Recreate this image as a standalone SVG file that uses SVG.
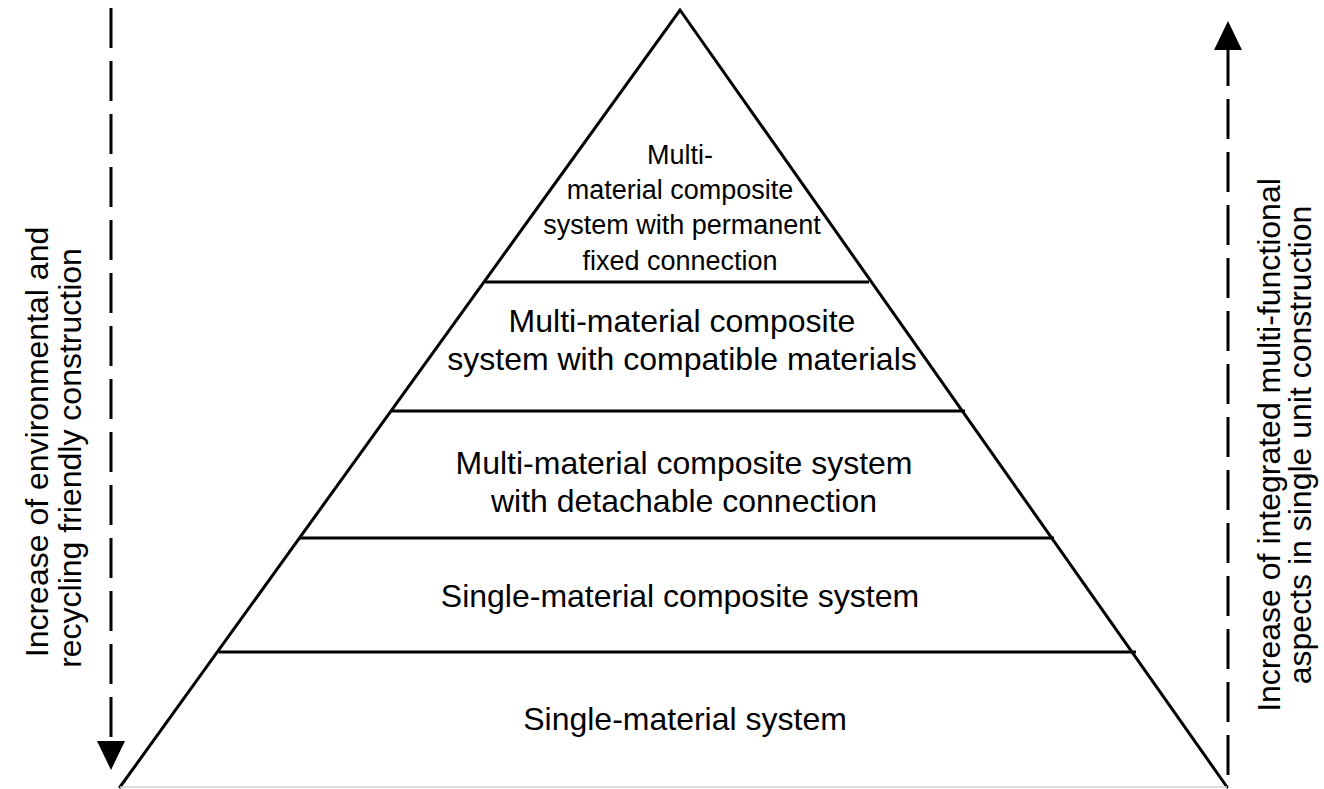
<svg xmlns="http://www.w3.org/2000/svg" width="1324" height="789" viewBox="0 0 1324 789">
<style>
.edge{stroke:#000;stroke-width:3;fill:none;stroke-linecap:round}
.div{stroke:#000;stroke-width:3}
.dash{stroke:#000;stroke-width:3;stroke-dasharray:40 13;fill:none}
text{font-family:"Liberation Sans",Arial,sans-serif;fill:#000;text-anchor:middle}
.t{font-size:32px}
.top{font-size:27px}
.side{font-size:32px}
</style>
<rect width="1324" height="789" fill="#fff"/>
<g id="pyramid">
<polyline class="edge" points="120,787 680,10 1227,787"/>
<line x1="120" y1="787" x2="1227" y2="787" stroke="#cfcfcf" stroke-width="1.5"/>
<line class="div" x1="485" y1="282" x2="869" y2="282"/>
<line class="div" x1="391" y1="411" x2="965" y2="411"/>
<line class="div" x1="300" y1="538" x2="1054" y2="538"/>
<line class="div" x1="219" y1="652" x2="1136" y2="652"/>
</g>
<g id="level5">
<text class="top" x="680" y="164">Multi-</text>
<text class="top" x="680" y="199">material composite</text>
<text class="top" x="682" y="234">system with permanent</text>
<text class="top" x="680" y="270">fixed connection</text>
</g>
<g id="level4">
<text class="t" x="682" y="332">Multi-material composite</text>
<text class="t" x="682" y="370">system with compatible materials</text>
</g>
<g id="level3">
<text class="t" x="684" y="474">Multi-material composite system</text>
<text class="t" x="684" y="512">with detachable connection</text>
</g>
<g id="level2">
<text class="t" x="680" y="607">Single-material composite system</text>
</g>
<g id="level1">
<text class="t" x="685" y="730">Single-material system</text>
</g>
<g id="connectors">
<line class="dash" x1="111" y1="8" x2="111" y2="745"/>
<polygon points="97,741 125,741 111,770" fill="#000"/>
<line class="dash" x1="1228" y1="775" x2="1228" y2="46"/>
<polygon points="1214,50 1242,50 1228,21" fill="#000"/>
</g>
<g id="left-label">
<text class="side" transform="translate(48,442) rotate(-90)">Increase of environmental and</text>
<text class="side" transform="translate(81,458) rotate(-90)">recycling friendly construction</text>
</g>
<g id="right-label">
<text class="side" transform="translate(1280,445) rotate(-90)">Increase of integrated multi-functional</text>
<text class="side" transform="translate(1311,445) rotate(-90)">aspects in single unit construction</text>
</g>
</svg>
